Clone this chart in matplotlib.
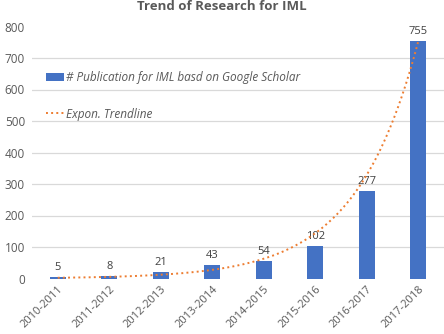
import numpy as np
import matplotlib
matplotlib.use("Agg")
import matplotlib.pyplot as plt

plt.rcParams['font.family'] = ['Open Sans', 'DejaVu Sans']

# data
periods = ["2010-2011", "2011-2012", "2012-2013", "2013-2014",
           "2014-2015", "2015-2016", "2016-2017", "2017-2018"]
publications = [5, 8, 21, 43, 54, 102, 277, 755]
y_ticks = [0, 100, 200, 300, 400, 500, 600, 700, 800]

# exponential trendline as it appears in the picture: y = a * exp(b * n), n = 1..8
trend_a = 1.0
trend_b = 0.828

bar_color = "#4472C4"
trend_color = "#ED7D31"
text_color = "#595959"

fig = plt.figure(figsize=(4.44, 3.34), dpi=100)
ax = fig.add_axes([32 / 444, 55.5 / 334, 412 / 444, 252 / 334])
ax.grid(False)

x = np.arange(len(periods))
bars = ax.bar(x, publications, width=0.32, color=bar_color, zorder=3)

n = np.linspace(1, len(periods), 200)
trend, = ax.plot(n - 1, trend_a * np.exp(trend_b * n), linestyle=":",
                 color=trend_color, lw=1.4, zorder=4)

for xi, v in zip(x, publications):
    ax.annotate(str(v), (xi, v), xytext=(0, 3), textcoords="offset points",
                ha="center", va="bottom", fontsize=8, color="#404040")

for t in y_ticks[1:-1]:
    ax.axhline(t, color="#D9D9D9", lw=0.9, zorder=1)

ax.set_xlim(-0.5, len(periods) - 0.5)
ax.set_ylim(0, 800)
ax.set_yticks(y_ticks)
ax.set_yticklabels([str(t) for t in y_ticks], fontsize=8.5, color=text_color)
ax.set_xticks(x)
ax.set_xticklabels(periods, rotation=45, ha="right", rotation_mode="anchor",
                   fontsize=8, color=text_color)
ax.tick_params(length=0, pad=4)
ax.tick_params(axis="y", pad=5)
for s in ax.spines.values():
    s.set_visible(False)

leg = ax.legend([bars, trend],
                ["# Publication for IML basd on Google Scholar", "Expon. Trendline"],
                loc="center left", bbox_to_anchor=(0.034, 0.725), frameon=False,
                fontsize=8.5, handlelength=1.5, handletextpad=0.2, labelspacing=2.0,
                borderpad=0, borderaxespad=0)
for t in leg.get_texts():
    t.set_color(text_color)
    t.set_fontstyle("italic")

fig.text(0.5, (334 - 9.5) / 334, "Trend of Research for IML", ha="center",
         va="baseline", fontsize=9.5, fontweight="bold", color=text_color)

fig.savefig("out.png", dpi=100)
